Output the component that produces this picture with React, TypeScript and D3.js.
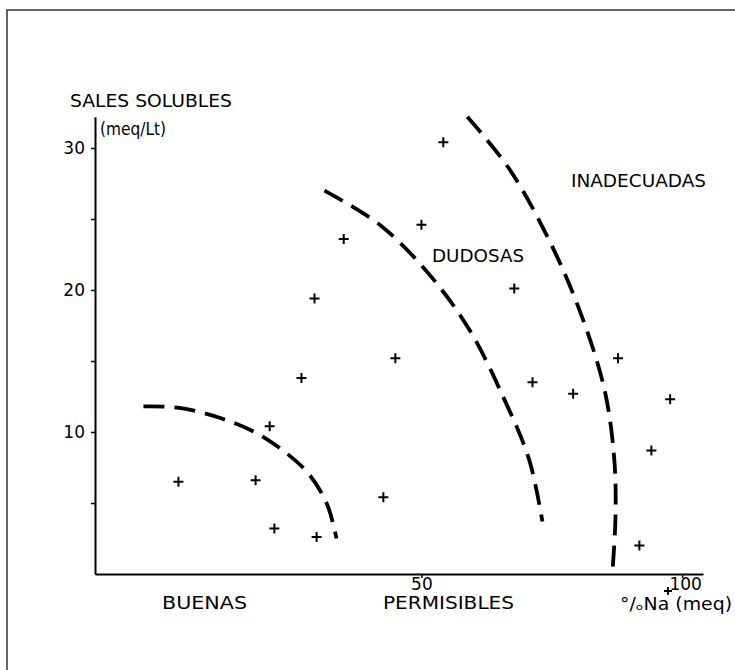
import React, { useEffect, useRef } from "react"
import * as d3 from "d3"

// sampled crosses: % Na (meq) vs soluble salts (meq/Lt)
const sodium = [3.4, 18.2, 20.9, 21.8, 29.9, 27.0, 29.5, 35.1, 42.7, 45.0, 50.0, 54.2, 67.8, 71.3, 79.1, 87.7, 94.1, 97.7, 91.8]
const salts = [6.5, 6.6, 10.4, 3.2, 2.6, 13.8, 19.4, 23.6, 5.4, 15.2, 24.6, 30.4, 20.1, 13.5, 12.7, 15.2, 8.7, 12.3, 2.0]

// dashed class boundaries
const buenasX = [-3.3, 3.6, 11.3, 18.0, 23.8, 28.5, 31.8, 33.3, 33.7]
const buenasY = [11.8, 11.7, 11.0, 10.0, 8.6, 7.0, 5.0, 3.2, 2.5]
const dudosasX = [31.4, 42.0, 51.5, 59.2, 65.9, 70.7, 73.2]
const dudosasY = [27.0, 24.6, 21.1, 17.2, 12.3, 8.0, 3.7]
const inadecX = [58.8, 66.9, 74.5, 80.3, 85.1, 87.0, 87.2, 86.6]
const inadecY = [32.2, 28.5, 23.5, 18.6, 13.0, 8.0, 3.8, 0]

const yTicks = [5, 10, 15, 20, 25, 30]
const yLabels = [10, 20, 30]
const xTicks = [50, 100]

const font = "'DejaVu Sans', sans-serif"

function Chart() {
    const ref = useRef(null)

    useEffect(() => {
        const svg = d3.select(ref.current)
        svg.selectAll("*").remove()

        const x = d3.scaleLinear().domain([-12.6, 104]).range([95, 703])
        const y = d3.scaleLinear().domain([0, 10]).range([574, 432])

        // frame
        svg.append("rect")
            .attr("x", 7).attr("y", 10)
            .attr("width", 760).attr("height", 700)
            .attr("fill", "none").attr("stroke", "#333").attr("stroke-width", 1.5)

        // vertical axis runs a bit past the last tick
        const yAxisScale = y.copy().domain([0, 32.2]).range([574, y(32.2)])
        const yAxis = d3.axisLeft(yAxisScale)
            .tickValues(yTicks)
            .tickSize(4)
            .tickSizeOuter(0)
            .tickPadding(6)
            .tickFormat(d => (yLabels.includes(+d) ? String(d) : ""))

        const gy = svg.append("g")
            .attr("transform", "translate(95,0)")
            .call(yAxis)

        const xAxis = d3.axisBottom(x)
            .tickValues(xTicks)
            .tickSize(4)
            .tickSizeOuter(0)
            .tickPadding(0)

        const gx = svg.append("g")
            .attr("transform", "translate(0,574)")
            .call(xAxis)

        for (const g of [gx, gy]) {
            g.select(".domain").attr("stroke", "#000").attr("stroke-width", 2)
            g.selectAll("line").attr("stroke", "#000").attr("stroke-width", 1.5)
            g.selectAll("text")
                .attr("fill", "#000")
                .attr("font-family", font)
                .attr("font-size", 17)
        }
        gx.selectAll("text").attr("dx", (d) => (d === 100 ? 3 : 0))

        const line = d3.line()
            .x(d => x(d[0]))
            .y(d => y(d[1]))
            .curve(d3.curveCatmullRom.alpha(0.5))

        const curves = [
            d3.zip(buenasX, buenasY),
            d3.zip(dudosasX, dudosasY),
            d3.zip(inadecX, inadecY),
        ]

        svg.append("g")
            .selectAll("path")
            .data(curves)
            .enter()
            .append("path")
            .attr("d", d => line(d))
            .attr("fill", "none")
            .attr("stroke", "#000")
            .attr("stroke-width", 3.8)
            .attr("stroke-dasharray", "21 10")

        const pts = d3.zip(sodium, salts)
        svg.append("g")
            .selectAll("path")
            .data(pts)
            .enter()
            .append("path")
            .attr("d", d => {
                const cx = x(d[0]), cy = y(d[1])
                return `M${cx - 5},${cy}H${cx + 5}M${cx},${cy - 5}V${cy + 5}`
            })
            .attr("stroke", "#000")
            .attr("stroke-width", 2)

        const labels = [
            { t: "SALES SOLUBLES", x: 70, y: 107, w: 162 },
            { t: "(meq/Lt)", x: 100, y: 135, w: 66 },
            { t: "INADECUADAS", x: 571, y: 187, w: 135 },
            { t: "DUDOSAS", x: 432, y: 262, w: 92 },
            { t: "BUENAS", x: 162, y: 609, w: 85 },
            { t: "PERMISIBLES", x: 383, y: 609, w: 131 },
            { t: "°/ₒNa  (meq)", x: 620, y: 610, w: 112 },
        ]

        svg.append("g")
            .selectAll("text")
            .data(labels)
            .enter()
            .append("text")
            .attr("x", d => d.x)
            .attr("y", d => d.y)
            .attr("textLength", d => d.w)
            .attr("lengthAdjust", "spacingAndGlyphs")
            .attr("font-family", font)
            .attr("font-size", 17)
            .text(d => d.t)

        // superscript + of Na, drawn as a small cross like the original lettering
        const sx = 668, sy = 591
        svg.append("path")
            .attr("d", `M${sx - 4},${sy}H${sx + 4}M${sx},${sy - 4}V${sy + 4}`)
            .attr("stroke", "#000")
            .attr("stroke-width", 1.8)
    }, [])

    return <svg ref={ref} width={735} height={670} />
}

export default function App() {
    return (
        <div style={{ position: "fixed", left: 0, top: 0, background: "#fff" }}>
            <Chart />
        </div>
    )
}
